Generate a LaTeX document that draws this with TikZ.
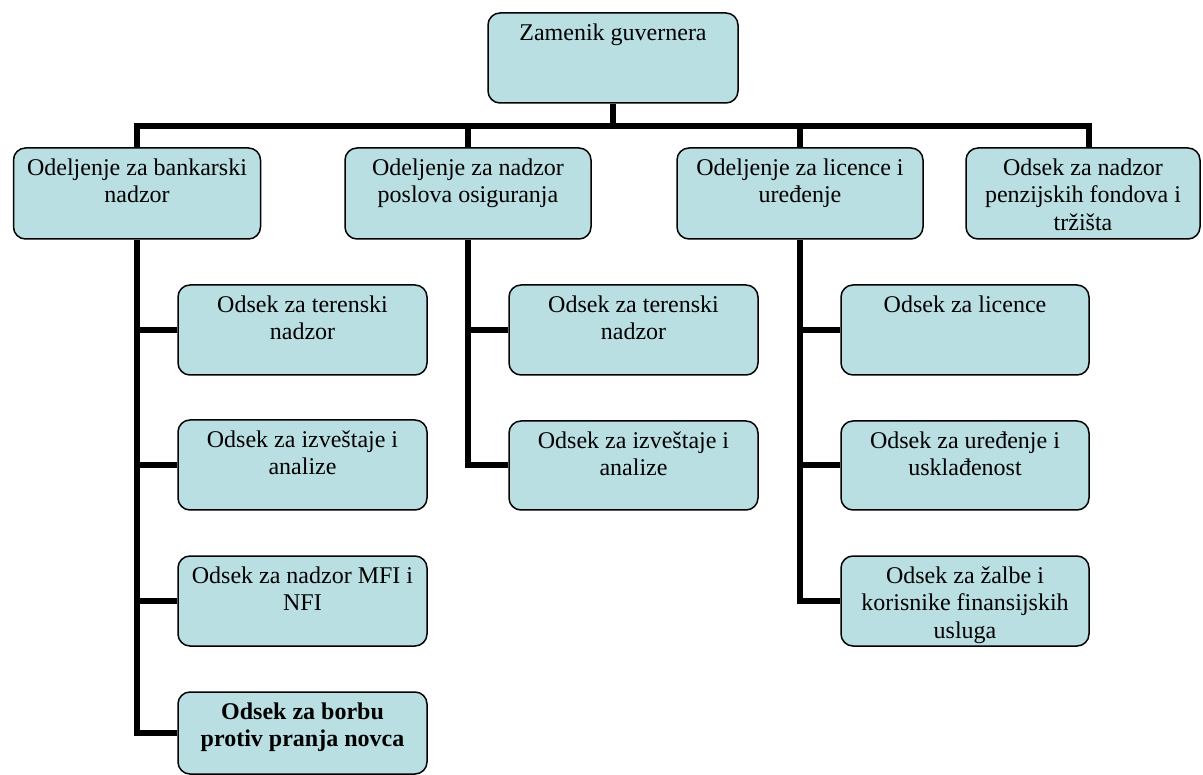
\documentclass[tikz,border=0pt]{standalone}
\usepackage{fontspec}
\setmainfont{Liberation Serif}
\usetikzlibrary{backgrounds,calc}
\definecolor{boxfill}{RGB}{185,223,227}
\newcommand{\orgbox}[6]{% name, left, top, right, bottom, text
  \node[obox, minimum width={#4-#2}, minimum height={#5-#3}] (#1) at ({(#2+#4)/2},{(#3+#5)/2}) {};
  \node[otext, anchor=north] (#1t) at ([yshift=-8.5pt]#1.north) {\strut #6};
}
\begin{document}
\begin{tikzpicture}[x=1pt,y=-1pt,
  obox/.style={draw=black, line width=1.5pt, fill=boxfill, rounded corners=12pt, inner sep=0pt},
  otext/.style={inner sep=0pt, align=center, font=\fontsize{24}{27.6}\selectfont},
  conn/.style={draw=black, line width=6pt}]
\useasboundingbox (0,0) rectangle (1203,775);

% top
\orgbox{top}{488}{13}{738}{103}{Zamenik guvernera}
% level 2
\orgbox{b1}{13.5}{148}{260.5}{239}{Odeljenje za bankarski\\nadzor}
\orgbox{b2}{345}{148}{591}{239}{Odeljenje za nadzor\\poslova osiguranja}
\orgbox{b3}{677}{148}{923}{239}{Odeljenje za licence i\\uređenje}
\orgbox{b4}{966}{148}{1200}{239}{Odsek za nadzor\\penzijskih fondova i\\tržišta}
% column 1
\orgbox{c1a}{178}{285}{427}{375}{Odsek za terenski\\nadzor}
\orgbox{c1b}{178}{420}{427}{510}{Odsek za izveštaje i\\analize}
\orgbox{c1c}{178}{556}{427}{646}{Odsek za nadzor MFI i\\NFI}
\orgbox{c1d}{178}{692}{427}{774}{\bfseries Odsek za borbu\\\bfseries protiv pranja novca}
% column 2
\orgbox{c2a}{509}{285}{758}{375}{Odsek za terenski\\nadzor}
\orgbox{c2b}{509}{421}{758}{510}{Odsek za izveštaje i\\analize}
% column 3
\orgbox{c3a}{841}{285}{1089}{375}{Odsek za licence}
\orgbox{c3b}{841}{421}{1089}{510}{Odsek za uređenje i\\usklađenost}
\orgbox{c3c}{841}{556}{1089}{646}{Odsek za žalbe i\\korisnike finansijskih\\usluga}

\begin{scope}[on background layer]
  \coordinate (bus) at (613,126);
  \draw[conn] (top.south) -- (bus);
  \draw[conn] (b1.north) |- (bus) -| ([xshift=6pt]b4.north);
  \draw[conn] (b2.north) -- (b2.north |- bus);
  \draw[conn] (b3.north) -- (b3.north |- bus);
  % column 1
  \draw[conn] (b1.south) |- (c1d.west);
  \draw[conn] (c1a.west) -- (c1a.west -| b1.south);
  \draw[conn] (c1b.west) -- (c1b.west -| b1.south);
  \draw[conn] (c1c.west) -- (c1c.west -| b1.south);
  % column 2
  \draw[conn] (b2.south) |- (c2b.west);
  \draw[conn] (c2a.west) -- (c2a.west -| b2.south);
  % column 3
  \draw[conn] (b3.south) |- (c3c.west);
  \draw[conn] (c3a.west) -- (c3a.west -| b3.south);
  \draw[conn] (c3b.west) -- (c3b.west -| b3.south);
\end{scope}
\end{tikzpicture}
\end{document}
